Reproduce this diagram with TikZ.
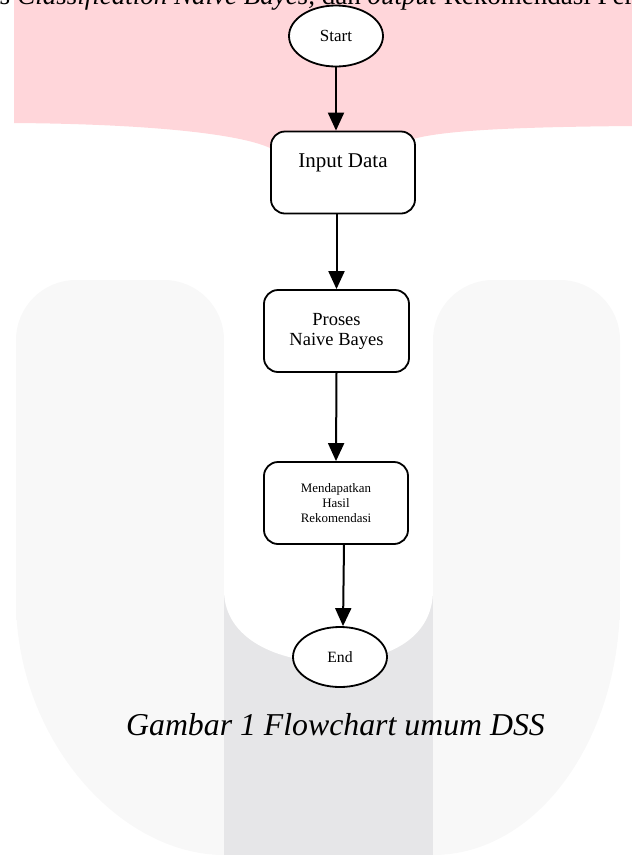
\documentclass[tikz,border=0pt]{standalone}
\usepackage{fontspec}
\setmainfont{Liberation Serif}
\usepackage{xcolor}
\usetikzlibrary{arrows.meta,shapes.geometric}

\definecolor{wmpink}{HTML}{FFD6DA}
\definecolor{wmlight}{HTML}{F8F8F8}
\definecolor{wmgrey}{HTML}{E6E6E8}

\begin{document}
\begin{tikzpicture}[x=1pt, y=-1pt,
    terminal/.style={ellipse, draw, line width=1.8pt, fill=white, minimum width=94pt, minimum height=61pt, inner sep=0pt},
    process/.style={rectangle, rounded corners=14pt, draw, line width=1.8pt, fill=white, minimum width=144pt, minimum height=82pt, align=center, inner sep=0pt},
    flow/.style={line width=2pt, -{Triangle[length=18pt, width=16pt]}}]
    \useasboundingbox (0,0) rectangle (632,855);
    % background watermark
    \begin{scope}
        \clip (0,0) rectangle (632,855);
        \fill[wmpink] (14,0) -- (632,0) -- (632,126) .. controls (520,127) and (440,130) .. (410,140) -- (340,160) -- (270,148) .. controls (240,134) and (150,124) .. (14,123) -- cycle;
        \fill[wmlight, rounded corners=60pt] (16,280) rectangle (224,620);
        \fill[wmlight, rounded corners=60pt] (433,280) rectangle (620,620);
        \fill[wmlight] (16,540) rectangle (224,620);
        \fill[wmlight] (433,540) rectangle (620,620);
        \fill[wmlight] (16,600) .. controls (16,740) and (120,855) .. (224,855) -- (433,855) .. controls (537,855) and (620,740) .. (620,600) -- cycle;
        \fill[wmgrey] (224,560) rectangle (433,855);
        \fill[white] (224,280) -- (224,590) .. controls (224,640) and (280,662) .. (330,662) .. controls (385,662) and (433,640) .. (433,590) -- (433,280) -- cycle;
        \node[anchor=base west, inner sep=0pt, font=\fontsize{27}{32}\selectfont] (toptext) at (0,4) {\itshape s Classification Naive Bayes,\upshape{} dan \textit{output} Rekomendasi Pere};
    \end{scope}
    % flowchart
    \node[terminal, font=\fontsize{17}{20}\selectfont] (start) at (336,36) {Start};
    \node[process, text height=15pt, text depth=26pt, font=\fontsize{21}{25}\selectfont] (input) at (343,172.5) {Input Data};
    \node[process, minimum width=145pt, font=\fontsize{18.5}{20}\selectfont] (proses) at (336.5,331) {Proses\\Naive Bayes};
    \node[process, font=\fontsize{12.9}{15}\selectfont] (hasil) at (336,503) {Mendapatkan\\Hasil\\Rekomendasi};
    \node[terminal, minimum height=60pt, font=\fontsize{15.7}{19}\selectfont] (stop) at (340,657) {End};
    \draw[flow] (start.south) -- (start.south |- input.north);
    \draw[flow] (input.south -| proses.north) -- (proses.north);
    \draw[flow] (proses.south) -- (hasil.north);
    \draw[flow] ([xshift=8pt]hasil.south) -- ([xshift=3pt]stop.north);
    \node[anchor=base, font=\fontsize{31.8}{38}\selectfont\itshape] (caption) at (335.5,735) {Gambar 1 Flowchart umum DSS};
\end{tikzpicture}
\end{document}
